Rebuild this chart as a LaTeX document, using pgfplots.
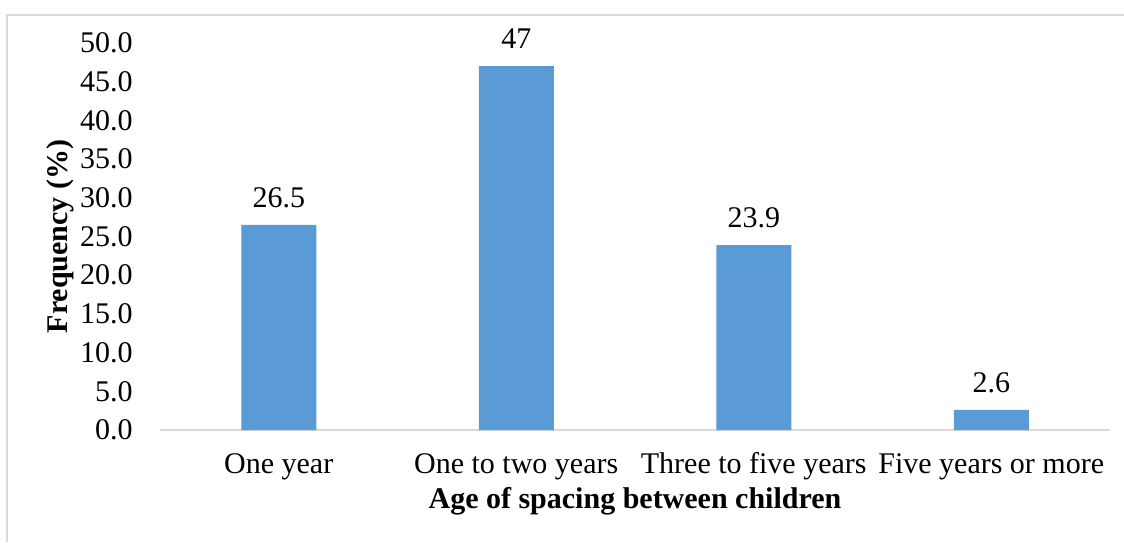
\documentclass[border=0pt]{standalone}
\usepackage{pgfplots}
\pgfplotsset{compat=1.18}
\usepackage{fontspec}
\setmainfont{Liberation Serif}

\definecolor{barblue}{HTML}{5B9BD5}
\definecolor{framegray}{HTML}{D9D9D9}

\begin{document}
\begin{tikzpicture}
  % page extent and chart frame
  \path[use as bounding box] (-80pt,-56pt) rectangle (482pt,215pt);
  \draw[framegray, line width=1pt] (-76.5pt,-56pt) -- (-76.5pt,207.5pt) -- (482pt,207.5pt);

  \begin{axis}[
    at={(0,0)}, anchor=south west,
    scale only axis,
    width=475pt, height=193.5pt,
    xmin=-0.5, xmax=3.5,
    ymin=0, ymax=50,
    ytick={0,5,...,50},
    xtick=data,
    xticklabels={One year, One to two years, Three to five years, Five years or more},
    axis x line=bottom,
    axis y line=left,
    x axis line style={-, draw=framegray, line width=1pt},
    y axis line style={draw=none},
    major tick length=0pt,
    /pgf/number format/assume math mode=true,
    tick label style={font=\fontsize{15}{18}\selectfont, inner sep=0pt},
    yticklabel style={anchor=east, xshift=-13.5pt,
      /pgf/number format/fixed, /pgf/number format/fixed zerofill,
      /pgf/number format/precision=1},
    xticklabel style={anchor=base, yshift=-21.5pt},
    xlabel={Age of spacing between children},
    ylabel={Frequency (\%)},
    every axis x label/.style={at={(axis description cs:0.5,0)}, anchor=base,
      yshift=-39pt, font=\fontsize{15}{18}\selectfont\bfseries},
    every axis y label/.style={at={(axis description cs:0,0.5)}, xshift=-46pt,
      rotate=90, anchor=base, font=\fontsize{15}{18}\selectfont\bfseries},
    ybar, bar width=37.5pt,
    nodes near coords,
    every node near coord/.append style={font=\fontsize{15}{18}\selectfont,
      inner sep=0pt, yshift=8.5pt, black},
    clip=false,
  ]
    \addplot[fill=barblue, draw=none] coordinates {(0,26.5) (1,47) (2,23.9) (3,2.6)};
  \end{axis}
\end{tikzpicture}
\end{document}
